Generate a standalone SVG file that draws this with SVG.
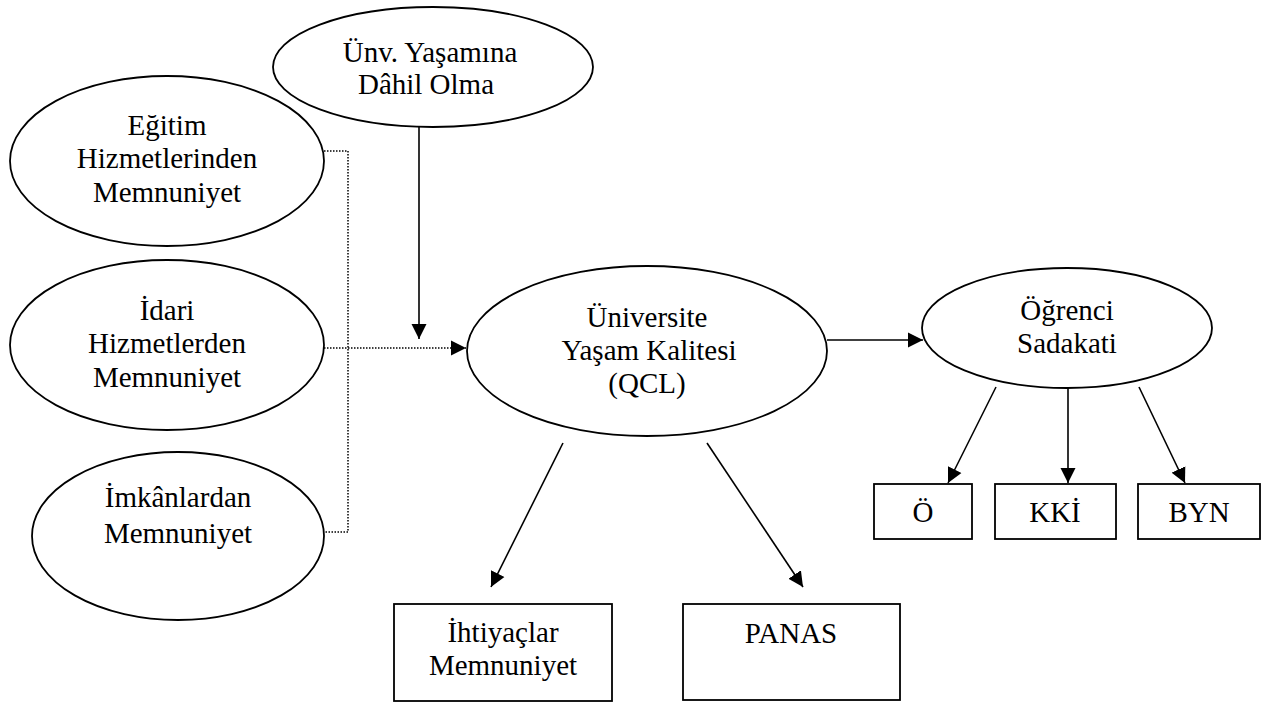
<svg xmlns="http://www.w3.org/2000/svg" width="1262" height="704" viewBox="0 0 1262 704">
<style>
.n{fill:#fff;stroke:#000;stroke-width:1.8}
.t{font-family:'Liberation Serif','Tinos','DejaVu Serif','Times New Roman',serif;font-size:29px;fill:#000;text-anchor:middle}
.c{stroke:#000;stroke-width:1.6;fill:none}
.d{stroke:#000;stroke-width:1.5;fill:none;stroke-dasharray:1.5 1.5}
</style>
<defs>
<marker id="ah" markerUnits="userSpaceOnUse" markerWidth="16" markerHeight="16" viewBox="0 0 16 16" refX="15" refY="8" orient="auto">
<path d="M0,0.5 L15,8 L0,15.5 z" fill="#000"/>
</marker>
</defs>
<rect width="1262" height="704" fill="#fff"/>
<g id="connectors">
<path class="d" d="M324,151 H348 V532 H324"/>
<path class="d" d="M324,348 H466" marker-end="url(#ah)"/>
<path class="c" d="M419,127 V339" marker-end="url(#ah)"/>
<path class="c" d="M827,340 H923" marker-end="url(#ah)"/>
<path class="c" d="M563,443 L491,587" marker-end="url(#ah)"/>
<path class="c" d="M707,443 L803,587" marker-end="url(#ah)"/>
<path class="c" d="M996,387 L948,483" marker-end="url(#ah)"/>
<path class="c" d="M1068,388 V483" marker-end="url(#ah)"/>
<path class="c" d="M1139,387 L1185,483" marker-end="url(#ah)"/>
</g>
<g id="node-unv">
<ellipse class="n" cx="433" cy="67" rx="160" ry="60"/>
<text class="t" x="430" y="62">Ünv. Yaşamına</text>
<text class="t" x="426" y="94">Dâhil Olma</text>
</g>
<g id="node-egitim">
<ellipse class="n" cx="167" cy="161" rx="157" ry="85"/>
<text class="t" x="167" y="135">Eğitim</text>
<text class="t" x="167" y="168">Hizmetlerinden</text>
<text class="t" x="167" y="202">Memnuniyet</text>
</g>
<g id="node-idari">
<ellipse class="n" cx="167" cy="345" rx="157" ry="85"/>
<text class="t" x="167" y="320">İdari</text>
<text class="t" x="167" y="353">Hizmetlerden</text>
<text class="t" x="167" y="387">Memnuniyet</text>
</g>
<g id="node-imkan">
<ellipse class="n" cx="178" cy="536" rx="146" ry="84"/>
<text class="t" x="178" y="507">İmkânlardan</text>
<text class="t" x="178" y="543">Memnuniyet</text>
</g>
<g id="node-qcl">
<ellipse class="n" cx="647" cy="351" rx="180" ry="85"/>
<text class="t" x="647" y="327">Üniversite</text>
<text class="t" x="649" y="360">Yaşam Kalitesi</text>
<text class="t" x="647" y="393">(QCL)</text>
</g>
<g id="node-sadakat">
<ellipse class="n" cx="1067" cy="328" rx="145" ry="60"/>
<text class="t" x="1067" y="320">Öğrenci</text>
<text class="t" x="1067" y="353">Sadakati</text>
</g>
<g id="node-o">
<rect class="n" x="874" y="484" width="98" height="55"/>
<text class="t" x="923" y="522">Ö</text>
</g>
<g id="node-kki">
<rect class="n" x="995" y="484" width="121" height="55"/>
<text class="t" x="1055" y="522">KKİ</text>
</g>
<g id="node-byn">
<rect class="n" x="1138" y="484" width="122" height="55"/>
<text class="t" x="1199" y="522">BYN</text>
</g>
<g id="node-ihtiyac">
<rect class="n" x="394" y="604" width="218" height="97"/>
<text class="t" x="503" y="642">İhtiyaçlar</text>
<text class="t" x="503" y="675">Memnuniyet</text>
</g>
<g id="node-panas">
<rect class="n" x="683" y="604" width="217" height="96"/>
<text class="t" x="791" y="643">PANAS</text>
</g>
</svg>
